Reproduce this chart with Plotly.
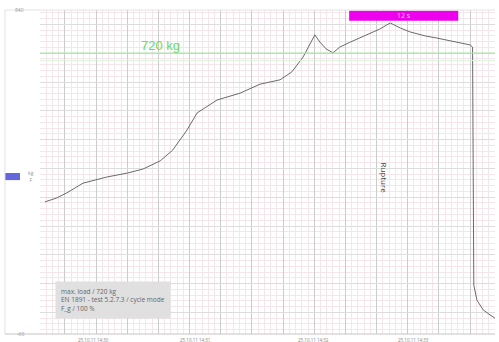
import plotly.graph_objects as go

# time (s) and load (kg)
time_s = [0.8, 2.7, 4.3, 6.9, 10.7, 14.0, 16.5, 19.3, 21.3, 23.6, 25.2, 28.4, 32.1, 35.3,
          38.5, 40.4, 42.2, 43.3, 44.1, 44.9, 45.9, 47.0, 48.1, 49.8, 52.1, 54.5, 56.2,
          57.8, 59.4, 61.8, 63.7, 65.8, 67.9, 69.0, 69.4, 69.45, 69.5, 69.6, 70.1, 71.1,
          72.2, 73.0]
load_kg = [307, 318, 332, 359, 376, 387, 398, 421, 451, 507, 554, 590, 609, 634,
           646, 668, 709, 743, 771, 751, 732, 721, 737, 751, 768, 787, 804,
           790, 779, 768, 762, 754, 748, 743, 737, 534, 221, 76, 34, 7,
           -7, -16]

ref_load = 720
ref_label = "720 kg"
hold_start, hold_end = 49.6, 67.1
hold_label = "12 s"
event_time = 55.3
event_label = "Rupture"
info_lines = ["max. load / 720 kg", "EN 1891 - test 5.2.7.3 / cycle mode", "F_g / 100 %"]
x_tick_labels = ["25.10.11 14:30", "25.10.11 14:31", "25.10.11 14:32", "25.10.11 14:33"]

fig = go.Figure()
fig.add_trace(go.Scatter(x=time_s, y=load_kg, mode="lines",
                         line=dict(color="#6a6a6a", width=1), hoverinfo="skip",
                         showlegend=False))
# reference level
fig.add_trace(go.Scatter(x=[0, 73], y=[ref_load, ref_load], mode="lines",
                         line=dict(color="#a6e6a6", width=1.2), showlegend=False))
fig.add_trace(go.Scatter(x=[0, 73], y=[ref_load - 20, ref_load - 20], mode="lines",
                         line=dict(color="#dcf4dc", width=1), showlegend=False))

fig.add_shape(type="rect", x0=hold_start, x1=hold_end, y0=810, y1=838,
              fillcolor="#ee00ee", line=dict(width=0))
fig.add_annotation(x=(hold_start + hold_end) / 2, y=824, text=hold_label, showarrow=False,
                   font=dict(size=7, color="#f6c8f6"))
fig.add_annotation(x=19.4, y=742, text=ref_label, showarrow=False, yanchor="middle",
                   font=dict(size=13, color="#66dd66", family="Liberation Sans"))
fig.add_annotation(x=event_time, y=373, text=event_label, showarrow=False, textangle=90,
                   font=dict(size=8, color="#444444"))
fig.add_annotation(x=2.4, y=34, xanchor="left", yanchor="middle", align="left",
                   text="<br>".join(info_lines), showarrow=False, bgcolor="#e0e0e0",
                   borderpad=5, font=dict(size=6.5, color="#666666"))

# left side labels
fig.add_annotation(xref="paper", yref="paper", x=-0.03, y=1.0, text="840", showarrow=False,
                   font=dict(size=5, color="#999999"), xanchor="right", yanchor="middle")
fig.add_annotation(xref="paper", yref="paper", x=-0.03, y=0.0, text="-60", showarrow=False,
                   font=dict(size=5, color="#999999"), xanchor="right", yanchor="middle")
fig.add_annotation(xref="paper", yref="paper", x=-0.008, y=0.485, text="kg<br>F", showarrow=False,
                   font=dict(size=5, color="#999999"), xanchor="right", yanchor="middle")
fig.add_shape(type="rect", xref="paper", yref="paper", x0=-0.077, x1=-0.044, y0=0.475, y1=0.497,
              fillcolor="#6666dd", line=dict(width=0))
fig.add_shape(type="line", xref="paper", yref="paper", x0=-0.077, x1=-0.077, y0=0, y1=1,
              line=dict(color="#e2e2e2", width=1))
fig.add_shape(type="line", xref="paper", yref="paper", x0=-0.077, x1=1, y0=1, y1=1,
              line=dict(color="#e2e2e2", width=1))
fig.add_shape(type="line", xref="paper", yref="paper", x0=-0.077, x1=1, y0=0, y1=0,
              line=dict(color="#c4c4c4", width=1))
for i, lab in enumerate(x_tick_labels):
    fig.add_annotation(xref="paper", yref="paper", x=0.08 + i * 0.26, y=-0.003, text=lab,
                       showarrow=False, yanchor="top", font=dict(size=4.5, color="#888888"))

fig.update_xaxes(range=[0, 73], showticklabels=False, zeroline=False,
                 showgrid=True, gridcolor="#cccccc", gridwidth=1, dtick=5, tick0=4,
                 minor=dict(showgrid=True, dtick=1, tick0=0, gridcolor="#f5e6ec"),
                 showline=False)
fig.update_yaxes(range=[-60, 840], showticklabels=False, zeroline=False,
                 showgrid=True, gridcolor="#dddddd", gridwidth=1, dtick=80, tick0=0,
                 minor=dict(showgrid=True, dtick=16, tick0=0, gridcolor="#f5e6ec"),
                 showline=False)
fig.update_layout(width=499, height=342, margin=dict(l=40, r=4, t=10, b=8),
                  paper_bgcolor="white", plot_bgcolor="white", showlegend=False)
fig.write_html("out.html")
